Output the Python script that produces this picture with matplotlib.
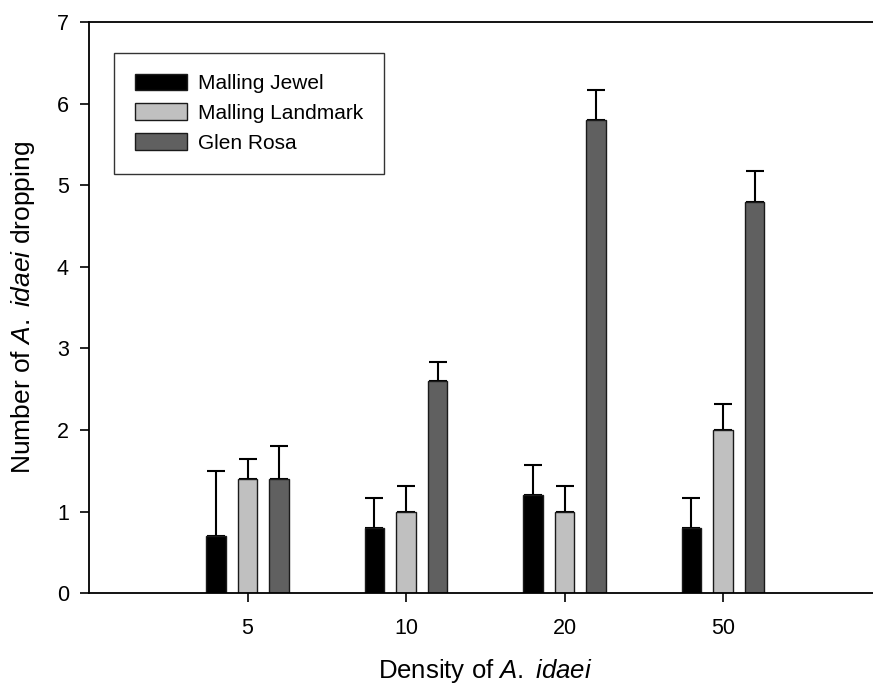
import matplotlib
matplotlib.use("Agg")
import matplotlib.pyplot as plt
import numpy as np

plt.rcParams['font.family'] = ['Liberation Sans', 'DejaVu Sans']
plt.rcParams['mathtext.fontset'] = 'custom'
plt.rcParams['mathtext.rm'] = 'Liberation Sans'
plt.rcParams['mathtext.it'] = 'Liberation Sans:italic'

densities = ['5', '10', '20', '50']
series_names = ['Malling Jewel', 'Malling Landmark', 'Glen Rosa']
jewel = [0.7, 0.8, 1.2, 0.8]
jewel_err = [0.8, 0.37, 0.37, 0.37]
landmark = [1.4, 1.0, 1.0, 2.0]
landmark_err = [0.24, 0.32, 0.32, 0.32]
rosa = [1.4, 2.6, 5.8, 4.8]
rosa_err = [0.4, 0.24, 0.37, 0.37]
colors = ['#000000', '#c0c0c0', '#606060']

fig = plt.figure(figsize=(8.73, 6.86), dpi=100)
ax = fig.add_axes([89/873, 1-593.3/686, (881.5-89)/873, (593.3-22)/686])

x = np.arange(len(densities))
offsets = [-0.2, 0.0, 0.2]
width = 0.123
for vals, errs, col, off, name in zip([jewel, landmark, rosa],
                                      [jewel_err, landmark_err, rosa_err],
                                      colors, offsets, series_names):
    ax.bar(x + off, vals, width, color=col, edgecolor='#1a1a1a', linewidth=1.0,
           label=name, zorder=2)
    ax.errorbar(x + off, vals, yerr=[np.zeros(len(vals)), errs], fmt='none',
                ecolor='black', elinewidth=1.5, capsize=6.5, capthick=1.5, zorder=1)

ax.set_xlim(-1, 4)
ax.set_ylim(0, 7)
ax.set_xticks(x)
ax.set_xticklabels(densities)
ax.set_yticks(range(8))
ax.tick_params(axis='both', direction='out', length=6.5, width=1.2, labelsize=15.5, pad=8)
ax.tick_params(axis='x', pad=11)
for s in ['left', 'bottom', 'top']:
    ax.spines[s].set_linewidth(1.3)
ax.spines['right'].set_visible(False)

ax.set_ylabel(r'Number of $\mathit{A.\ idaei}$ dropping', fontsize=19, labelpad=14)
ax.set_xlabel(r'Density of $\mathit{A.\ idaei}$', fontsize=18.5, labelpad=13)

leg = ax.legend(loc='upper left', bbox_to_anchor=((114-89)/(881.5-89), 1-(52.7-22)/571.3),
                fontsize=15, frameon=True, fancybox=False, edgecolor='black',
                handlelength=2.5, handleheight=0.85, labelspacing=0.5,
                borderpad=1.0, handletextpad=0.55, borderaxespad=0)
leg.get_frame().set_linewidth(1.0)

fig.savefig('out.png', dpi=100)
